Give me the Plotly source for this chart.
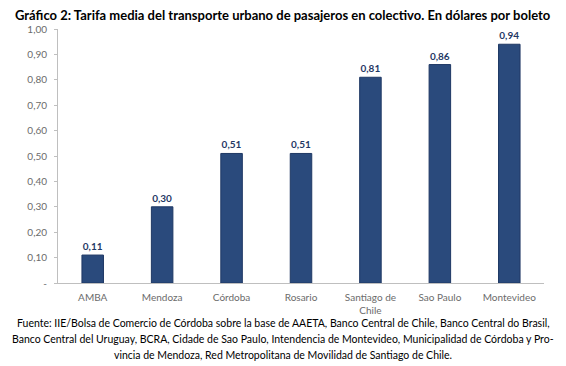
import plotly.graph_objects as go

categories = ["AMBA", "Mendoza", "Córdoba", "Rosario", "Santiago de<br>Chile", "Sao Paulo", "Montevideo"]
values = [0.11, 0.30, 0.51, 0.51, 0.81, 0.86, 0.94]
tick_vals = [0, 0.1, 0.2, 0.3, 0.4, 0.5, 0.6, 0.7, 0.8, 0.9, 1.0]
tick_text = ["-", "0,10", "0,20", "0,30", "0,40", "0,50", "0,60", "0,70", "0,80", "0,90", "1,00"]
title = "Gráfico 2: Tarifa media del transporte urbano de pasajeros en colectivo. En dólares por boleto"
source_lines = [
    "Fuente: IIE/Bolsa de Comercio de Córdoba sobre la base de AAETA, Banco Central de Chile, Banco Central do Brasil,",
    "Banco Central del Uruguay, BCRA, Cidade de Sao Paulo, Intendencia de Montevideo, Municipalidad de Córdoba y Pro-",
    "vincia de Mendoza, Red Metropolitana de Movilidad de Santiago de Chile.",
]

FONT = "Lato"
L, R, T, B = 58, 22, 29, 83
W, H = 566, 366
page_center = (283 - L) / (W - L - R)

fig = go.Figure(go.Bar(
    x=categories, y=values,
    marker=dict(color="#2a4a7c", line=dict(color="#1f3864", width=1)),
    width=0.31,
    texttemplate="<b>%{y:.2f}</b>",
    textposition="outside",
    textfont=dict(color="#1f3864", size=10, family=FONT),
    cliponaxis=False,
    hoverinfo="skip",
))

fig.update_layout(
    width=W, height=H,
    separators=",.",
    margin=dict(l=L, r=R, t=T, b=B, autoexpand=False),
    plot_bgcolor="white", paper_bgcolor="white",
    font=dict(family=FONT, color="#595959", size=10),
    showlegend=False,
)
fig.update_yaxes(
    range=[0, 1.0], tickvals=tick_vals, ticktext=tick_text,
    showgrid=False, zeroline=False, automargin=False,
    showline=True, linecolor="#bfbfbf", linewidth=1,
    ticks="outside", ticklen=3, tickcolor="#bfbfbf",
    ticklabelstandoff=5,
    tickfont=dict(size=10, color="#6b6b6b"),
)
fig.update_xaxes(
    showgrid=False, showline=True, linecolor="#bfbfbf", linewidth=1,
    automargin=False, ticklabelstandoff=5,
    ticks="", tickfont=dict(size=10, color="#6b6b6b"),
)

fig.add_annotation(
    text="<b>" + title + "</b>", xref="paper", yref="paper",
    x=page_center, xanchor="center", y=1, yanchor="bottom", yshift=4,
    showarrow=False, font=dict(size=13, color="#000000", family=FONT),
)
for i, line in enumerate(source_lines):
    fig.add_annotation(
        text=line, xref="paper", yref="paper",
        x=page_center, xanchor="center", y=0, yanchor="middle", yshift=-40 - 16 * i,
        showarrow=False, font=dict(size=10.5, color="#000000", family=FONT),
    )

fig.write_html("out.html", config={"displayModeBar": False},
               post_script="document.body.style.margin='0';")
